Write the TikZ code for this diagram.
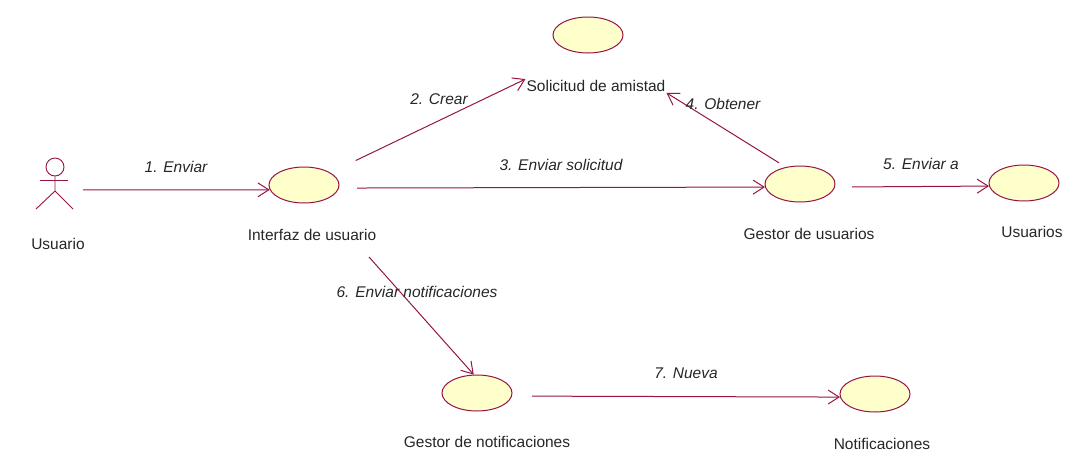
\documentclass[tikz,border=0pt]{standalone}
\usepackage{fontspec}
\setmainfont{Liberation Sans}
\usetikzlibrary{arrows.meta,shapes.geometric}
\definecolor{linea}{RGB}{150,20,70}
\definecolor{relleno}{RGB}{255,255,204}
\tikzset{
	clase/.style={ellipse,draw=linea,fill=relleno,line width=1pt,minimum width=70pt,minimum height=36pt,inner sep=0pt},
	nombre/.style={inner sep=1pt,font=\fontsize{15.5}{17}\selectfont,text=black!85},
	mensaje/.style={inner sep=1pt,font=\fontsize{15.5}{17}\selectfont\itshape,text=black!85},
	enlace/.style={draw=linea,line width=1pt,-{Straight Barb[length=11pt,width=14pt]}},
	actor/.style={draw=linea,line width=0.9pt}
}
\begin{document}
\begin{tikzpicture}[x=1pt,y=-1pt]
		\useasboundingbox (0, 0) rectangle (1085, 474);

		\node[clase] (solicitud) at (588, 35) {};
		\node[clase] (interfaz) at (304, 185) {};
		\node[clase] (gestoru) at (800, 184) {};
		\node[clase] (usuarios) at (1024, 183) {};
		\node[clase] (gestorn) at (477, 393) {};
		\node[clase] (notif) at (875, 394) {};

		\node[nombre] (usuarioT) at (58, 244) {Usuario};
		\node[nombre] (solicitudT) at (596, 86) {Solicitud de amistad};
		\node[nombre] (interfazT) at (312, 235) {Interfaz de usuario};
		\node[nombre] (gestoruT) at (809, 234) {Gestor de usuarios};
		\node[nombre] (usuariosT) at (1032, 232) {Usuarios};
		\node[nombre] (gestornT) at (487, 442) {Gestor de notificaciones};
		\node[nombre] (notifT) at (882, 444) {Notificaciones};

		% actor
		\node[circle,actor,minimum size=18pt,inner sep=0pt] (cabeza) at (55, 167) {};
		\coordinate (cuerpo) at (55, 191);
		\coordinate (brazoA) at (40, 180);
		\coordinate (brazoB) at (68, 180);
		\coordinate (pieA) at (36, 209);
		\coordinate (pieB) at (73, 209);
		\coordinate (usuario) at (55, 190);
		\coordinate (salida) at (369, 257);
		\draw[actor] (cabeza) -- (cuerpo) -- (pieA);
		\draw[actor] (cuerpo) -- (pieB);
		\draw[actor] (brazoA) -- (brazoB);

		\draw[enlace,shorten <=28pt] (usuario) -- (interfaz.188);
		\node[mensaje] (m1) at (176, 167) {1. Enviar};

		\draw[enlace,shorten <=28pt] (interfaz.25) -- (solicitudT.north west);
		\node[mensaje] (m2) at (439, 99) {2. Crear};

		\draw[enlace,shorten <=18pt] (interfaz.-5) -- (gestoru.185);
		\node[mensaje] (m3) at (561, 165) {3. Enviar solicitud};

		\draw[enlace,shorten <=8pt] (gestoru.130) -- (solicitudT.south east);
		\node[mensaje] (m4) at (723, 104) {4. Obtener};

		\draw[enlace,shorten <=17pt] (gestoru.-5) -- (usuarios.185);
		\node[mensaje] (m5) at (921, 164) {5. Enviar a};

		\draw[enlace] (salida) -- (gestorn.100);
		\node[mensaje] (m6) at (417, 292) {6. Enviar notificaciones};

		\draw[enlace,shorten <=20pt] (gestorn.-5) -- (notif.185);
		\node[mensaje] (m7) at (686, 373) {7. Nueva};
\end{tikzpicture}
\end{document}
